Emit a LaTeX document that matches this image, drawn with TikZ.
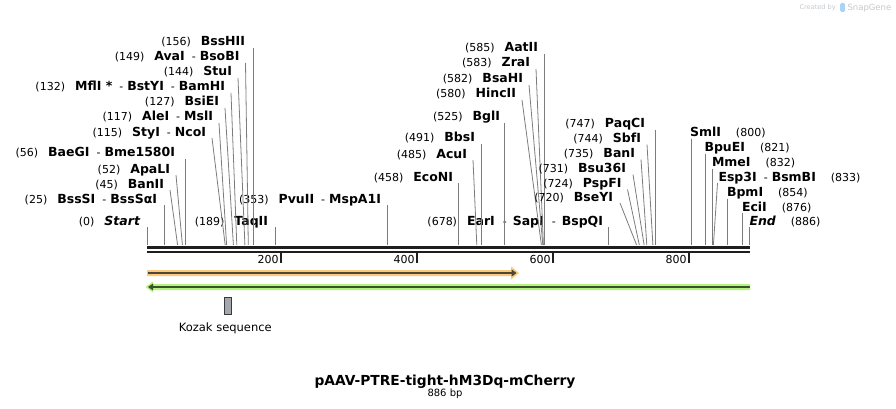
\documentclass[tikz,border=0pt]{standalone}
\usepackage{fontspec}
\setmainfont{DejaVu Sans}
\usepackage{tikz}
\usetikzlibrary{arrows.meta}
\definecolor{cutgray}{HTML}{7C7C7C}
\definecolor{backbone}{HTML}{1E1E1E}
\definecolor{promband}{HTML}{FAC97A}
\definecolor{promline}{HTML}{4F4637}
\definecolor{cdsband}{HTML}{B5F27E}
\definecolor{cdsline}{HTML}{38522A}
\definecolor{kozakgray}{HTML}{A3A7AE}
\definecolor{kozakedge}{HTML}{3A3A3A}
\definecolor{markgray}{HTML}{C4C8CC}
\definecolor{logoblue}{HTML}{A9D5F2}

\newcommand{\nm}[1]{{\fontsize{12.5}{14}\selectfont\bfseries #1}}
\newcommand{\nmit}[1]{{\fontsize{12.5}{14}\selectfont\bfseries\itshape #1}}
\newcommand{\sepr}{\hspace{7pt}-\hspace{4pt}}
\newcommand{\seprw}{\hspace{8pt}-\hspace{6pt}}
\newcommand{\numgap}{\hspace{10pt}}
\newcommand{\numgapr}{\hspace{15pt}}

\begin{document}
\begin{tikzpicture}[x=1pt, y=-1pt,
  every node/.style={font=\fontsize{11}{13}\selectfont, inner sep=0pt, outer sep=0pt},
  lbl/.style={anchor=base east},
  rlbl/.style={anchor=base west},
  cut/.style={draw=cutgray, line width=0.8pt},
  tick/.style={draw=backbone, line width=2pt}]
  \useasboundingbox (0,0) rectangle (896,409);

  % Sites on the sequence
  \coordinate (p0) at (147,245);
  \coordinate (p25) at (164,245);
  \coordinate (p45) at (177.6,245);
  \coordinate (p52) at (182.4,245);
  \coordinate (p56) at (185.1,245);
  \coordinate (p115) at (225.2,245);
  \coordinate (p117) at (226.6,245);
  \coordinate (p127) at (233.4,245);
  \coordinate (p132) at (236.8,245);
  \coordinate (p144) at (244.9,245);
  \coordinate (p149) at (248.3,245);
  \coordinate (p156) at (253.1,245);
  \coordinate (p189) at (275.5,245);
  \coordinate (p353) at (387,245);
  \coordinate (p458) at (458.4,245);
  \coordinate (p485) at (476.8,245);
  \coordinate (p491) at (480.9,245);
  \coordinate (p525) at (504,245);
  \coordinate (p580) at (541.4,245);
  \coordinate (p582) at (542.8,245);
  \coordinate (p583) at (543.4,245);
  \coordinate (p585) at (544.8,245);
  \coordinate (p678) at (608,245);
  \coordinate (p720) at (636.6,245);
  \coordinate (p724) at (639.3,245);
  \coordinate (p731) at (644.1,245);
  \coordinate (p735) at (646.8,245);
  \coordinate (p744) at (652.9,245);
  \coordinate (p747) at (655,245);
  \coordinate (p800) at (691,245);
  \coordinate (p821) at (705.3,245);
  \coordinate (p832) at (712.8,245);
  \coordinate (p833) at (713.4,245);
  \coordinate (p854) at (727.7,245);
  \coordinate (p876) at (742.7,245);
  \coordinate (p886) at (749.5,245);

  % Sequence
  \draw[backbone, line width=3pt] (147,247.5) -- (750,247.5);
  \draw[backbone, line width=2.4pt] (147,251.8) -- (750,251.8);

  % Graduation
  \draw[tick] (281,252) -- (281,263);
  \draw[tick] (417,252) -- (417,263);
  \draw[tick] (553,252) -- (553,263);
  \draw[tick] (689,252) -- (689,263);
  \node[lbl] (t200) at (278.5,263.5) {200};
  \node[lbl] (t400) at (414.5,263.5) {400};
  \node[lbl] (t600) at (550.5,263.5) {600};
  \node[lbl] (t800) at (686.5,263.5) {800};

  % Enzymes, left block
  \node[lbl] (bsshii) at (245,46) {(156)\numgap\nm{BssHII}};
  \node[lbl] (avai) at (239.5,61) {(149)\numgap\nm{AvaI}\sepr\nm{BsoBI}};
  \node[lbl] (stui) at (232,76) {(144)\numgap\nm{StuI}};
  \node[lbl] (mfli) at (225,91) {(132)\numgap\nm{MflI\ *}\sepr\nm{BstYI}\sepr\nm{BamHI}};
  \node[lbl] (bsiei) at (219,106) {(127)\numgap\nm{BsiEI}};
  \node[lbl] (alei) at (213,121) {(117)\numgap\nm{AleI}\sepr\nm{MslI}};
  \node[lbl] (styi) at (206,136) {(115)\numgap\nm{StyI}\sepr\nm{NcoI}};
  \node[lbl] (baegi) at (175,157) {(56)\numgap\nm{BaeGI}\sepr\nm{Bme1580I}};
  \node[lbl] (apali) at (170,173) {(52)\numgap\nm{ApaLI}};
  \node[lbl] (banii) at (164,188) {(45)\numgap\nm{BanII}};
  \node[lbl] (bsssi) at (157,203) {(25)\numgap\nm{BssSI}\sepr\nm{BssSαI}};
  \node[lbl] (startsite) at (140,225) {(0)\numgap\nmit{Start}};
  \node[lbl] (taqii) at (268,225) {(189)\numgap\nm{TaqII}};
  \node[lbl] (pvuii) at (381,203) {(353)\numgap\nm{PvuII}\sepr\nm{MspA1I}};

  \draw[cut] (p156 |- bsshii.base) ++(0,2) -- (p156);
  \draw[cut] (avai.base east) ++(6,2) -- (p149);
  \draw[cut] (stui.base east) ++(6,2) -- (p144);
  \draw[cut] (mfli.base east) ++(6,2) -- (p132);
  \draw[cut] (bsiei.base east) ++(6,2) -- (p127);
  \draw[cut] (alei.base east) ++(6,2) -- (p117);
  \draw[cut] (styi.base east) ++(6,2) -- (p115);
  \draw[cut] (p56 |- baegi.base) ++(0,2) -- (p56);
  \draw[cut] (apali.base east) ++(6,2) -- (p52);
  \draw[cut] (banii.base east) ++(6,2) -- (p45);
  \draw[cut] (p25 |- bsssi.base) ++(0,2) -- (p25);
  \draw[cut] (p0 |- startsite.base) ++(0,2) -- (p0);
  \draw[cut] (p189 |- taqii.base) ++(0,2) -- (p189);
  \draw[cut] (p353 |- pvuii.base) ++(0,2) -- (p353);

  % Enzymes, middle block
  \node[lbl] (aatii) at (538,52) {(585)\numgap\nm{AatII}};
  \node[lbl] (zrai) at (530,67) {(583)\numgap\nm{ZraI}};
  \node[lbl] (bsahi) at (523,83) {(582)\numgap\nm{BsaHI}};
  \node[lbl] (hincii) at (516,98) {(580)\numgap\nm{HincII}};
  \node[lbl] (bgli) at (500,121) {(525)\numgap\nm{BglI}};
  \node[lbl] (bbsi) at (475,142) {(491)\numgap\nm{BbsI}};
  \node[lbl] (acui) at (467,158) {(485)\numgap\nm{AcuI}};
  \node[lbl] (econi) at (453,181) {(458)\numgap\nm{EcoNI}};
  \node[lbl] (eari) at (603,225) {(678)\numgap\nm{EarI}\seprw\nm{SapI}\seprw\nm{BspQI}};

  \draw[cut] (p585 |- aatii.base) ++(0,2) -- (p585);
  \draw[cut] (zrai.base east) ++(6,2) -- (p583);
  \draw[cut] (bsahi.base east) ++(6,2) -- (p582);
  \draw[cut] (hincii.base east) ++(6,2) -- (p580);
  \draw[cut] (p525 |- bgli.base) ++(0,2) -- (p525);
  \draw[cut] (p491 |- bbsi.base) ++(0,2) -- (p491);
  \draw[cut] (acui.base east) ++(6,2) -- (p485);
  \draw[cut] (p458 |- econi.base) ++(0,2) -- (p458);
  \draw[cut] (p678 |- eari.base) ++(0,2) -- (p678);

  % Enzymes near 700-750
  \node[lbl] (bseyi) at (613,201) {(720)\numgap\nm{BseYI}};
  \node[lbl] (pspfi) at (621.5,187.5) {(724)\numgap\nm{PspFI}};
  \node[lbl] (bsu) at (626,172.5) {(731)\numgap\nm{Bsu36I}};
  \node[lbl] (bani) at (635,157.5) {(735)\numgap\nm{BanI}};
  \node[lbl] (sbfi) at (641,142.5) {(744)\numgap\nm{SbfI}};
  \node[lbl] (paqci) at (645,127.5) {(747)\numgap\nm{PaqCI}};

  \draw[cut] (bseyi.base east) ++(7,2) -- (p720);
  \draw[cut] (pspfi.base east) ++(6,2) -- (p724);
  \draw[cut] (bsu.base east) ++(7,2) -- (p731);
  \draw[cut] (bani.base east) ++(6,2) -- (p735);
  \draw[cut] (sbfi.base east) ++(6,2) -- (p744);
  \draw[cut] (p747 |- paqci.base) ++(0,2) -- (p747);

  % Enzymes, right block
  \node[rlbl] (smli) at (690,136.5) {\nm{SmlI}\numgapr(800)};
  \node[rlbl] (bpuei) at (704.5,151.5) {\nm{BpuEI}\numgapr(821)};
  \node[rlbl] (mmei) at (712,166.5) {\nm{MmeI}\numgapr(832)};
  \node[rlbl] (espi) at (718.5,181) {\nm{Esp3I}\sepr\nm{BsmBI}\numgapr(833)};
  \node[rlbl] (bpmi) at (727,196.5) {\nm{BpmI}\numgapr(854)};
  \node[rlbl] (ecii) at (742,211) {\nm{EciI}\numgapr(876)};
  \node[rlbl] (endsite) at (749.5,225) {\nmit{End}\numgapr(886)};

  \draw[cut] (p800 |- smli.base) ++(0,2) -- (p800);
  \draw[cut] (p821 |- bpuei.base) ++(0,2) -- (p821);
  \draw[cut] (p832 |- mmei.base) ++(0,2) -- (p832);
  \draw[cut] (espi.base west) ++(-1,2) -- (p833);
  \draw[cut] (p854 |- bpmi.base) ++(0,2) -- (p854);
  \draw[cut] (p876 |- ecii.base) ++(0,2) -- (p876);
  \draw[cut] (p886 |- endsite.base) ++(0,2) -- (p886);

  % Features
  \fill[promband] (147,270) -- (511,270) -- (511,266.5) -- (519,273) -- (511,279.5) -- (511,276) -- (147,276) -- cycle;
  \draw[promline, line width=2.4pt, -{Triangle[length=5pt,width=7pt]}] (148,273) -- (516.5,273);
  \fill[cdsband] (750,284) -- (153,284) -- (153,281.5) -- (145.5,287) -- (153,292.5) -- (153,290) -- (750,290) -- cycle;
  \draw[cdsline, line width=2.4pt, -{Triangle[length=5pt,width=6.5pt]}] (749.5,287) -- (148,287);

  \node[draw=kozakedge, fill=kozakgray, line width=1pt, minimum width=7pt, minimum height=16.5pt] (kozak) at (227.5,306) {};
  \node[anchor=base, font=\fontsize{11.5}{13}\selectfont] (kozaklbl) at (225.3,331) {Kozak sequence};

  % Title
  \node[anchor=base, font=\fontsize{13.8}{16}\selectfont\bfseries] (title) at (445,385) {pAAV-PTRE-tight-hM3Dq-mCherry};
  \node[anchor=base, font=\fontsize{10}{12}\selectfont] (bplen) at (445,396.5) {886 bp};

  % Watermark
  \node[anchor=base west, text=markgray, font=\fontsize{6.6}{8}\selectfont] (made) at (799.5,10) {Created by};
  \node[fill=logoblue, minimum width=5pt, minimum height=9pt, rounded corners=1.5pt] (logo) at (842.5,7.5) {};
  \node[anchor=base west, text=markgray, font=\fontsize{8.5}{10}\selectfont] (snapgene) at (847.5,10.5) {SnapGene};
\end{tikzpicture}
\end{document}
